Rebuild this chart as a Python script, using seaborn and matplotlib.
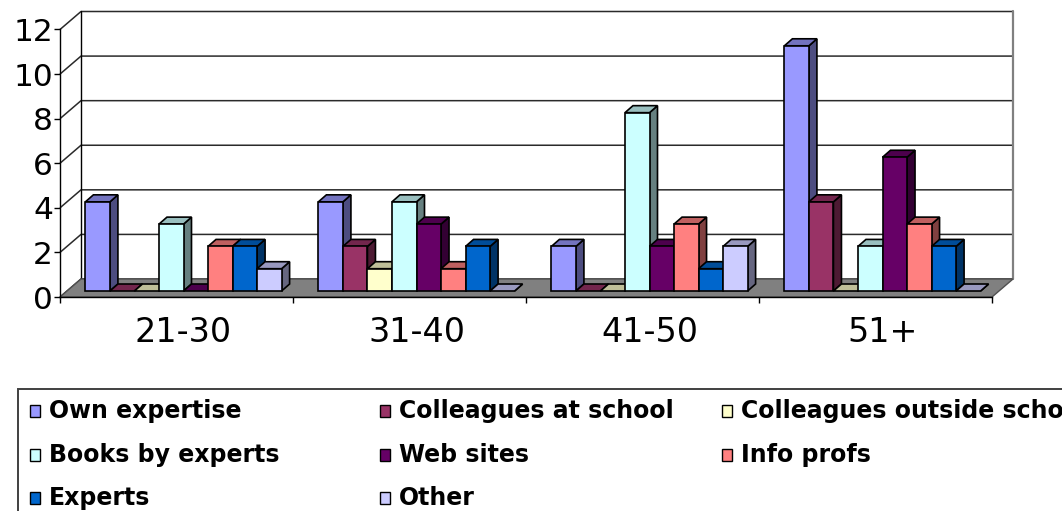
import numpy as np
import pandas as pd
import matplotlib
matplotlib.use("Agg")
import matplotlib.pyplot as plt
import seaborn as sns
from matplotlib.patches import Polygon, Rectangle
from matplotlib.colors import to_rgb

# ---- data -------------------------------------------------------------
age_groups = ["21-30", "31-40", "41-50", "51+"]
sources = ["Own expertise", "Colleagues at school", "Colleagues outside school",
           "Books by experts", "Web sites", "Info profs", "Experts", "Other"]

own_expertise = [4, 4, 2, 11]
colleagues_at_school = [0, 2, 0, 4]
colleagues_outside_school = [0, 1, 0, 0]
books_by_experts = [3, 4, 8, 2]
web_sites = [0, 3, 2, 6]
info_profs = [2, 1, 3, 3]
experts = [2, 2, 1, 2]
other = [1, 0, 2, 0]

series_values = [own_expertise, colleagues_at_school, colleagues_outside_school,
                 books_by_experts, web_sites, info_profs, experts, other]
colors = ["#9999FF", "#993366", "#FFFFCC", "#CCFFFF",
          "#660066", "#FF8080", "#0066CC", "#CCCCFF"]
y_ticks = [0, 2, 4, 6, 8, 10, 12]

df = pd.DataFrame([(age, src, vals[i])
                   for src, vals in zip(sources, series_values)
                   for i, age in enumerate(age_groups)],
                  columns=["Age", "Source", "Count"])

# ---- figure / front plane --------------------------------------------
FIG_W, FIG_H, DPI = 1062, 511, 100
sns.set_style("white")
plt.rcParams["font.family"] = ["DejaVu Sans"]
plt.rcParams["text.color"] = "black"
plt.rcParams["xtick.color"] = "black"
plt.rcParams["ytick.color"] = "black"

fig = plt.figure(figsize=(FIG_W / DPI, FIG_H / DPI), dpi=DPI)
fig.patch.set_facecolor("white")

AX_L, AX_B, AX_W, AX_H = 60, 297, 932, 267.5     # pixels (front plane)
ax = fig.add_axes([AX_L / FIG_W, (FIG_H - AX_B) / FIG_H, AX_W / FIG_W, AX_H / FIG_H])
ax.patch.set_visible(False)

sns.barplot(data=df, x="Age", y="Count", hue="Source", order=age_groups,
            hue_order=sources, palette=colors, saturation=1, width=8 / 9.5,
            gap=0, edgecolor="black", linewidth=1.2, legend=False, ax=ax,
            errorbar=None)

ax.set_xlim(-0.5, len(age_groups) - 0.5)
ax.set_ylim(0, 12)

# pixel -> data conversion
ux = (len(age_groups)) / AX_W
uy = 12 / AX_H

# depth of the box and of the bar slab (pixels)
WALL_DX, WALL_DY = 21, 18
FX, FY = 7 * ux, 6 * uy          # bar front plane
BX, BY = 15 * ux, 13 * uy        # bar back plane
WX, WY = WALL_DX * ux, WALL_DY * uy

x_lo, x_hi = ax.get_xlim()

# floor
ax.add_patch(Polygon([(x_lo, 0), (x_hi, 0), (x_hi + WX, WY), (x_lo + WX, WY)],
                     closed=True, facecolor="#808080", edgecolor="#505050",
                     linewidth=1, zorder=0.6, clip_on=False))

# back wall + side wall gridlines
ax.add_patch(Polygon([(x_lo + WX, WY), (x_hi + WX, WY), (x_hi + WX, 12 + WY),
                      (x_lo + WX, 12 + WY)], closed=True, facecolor="white",
                     edgecolor="none", zorder=0.3, clip_on=False))
for v in y_ticks:
    ax.plot([x_lo, x_lo + WX, x_hi + WX], [v, v + WY, v + WY],
            color="#2a2a2a", linewidth=1.1, zorder=0.5, clip_on=False,
            solid_capstyle="butt")
ax.plot([x_lo + WX, x_lo + WX], [WY, 12 + WY], color="black", linewidth=1,
        zorder=0.5, clip_on=False)
ax.plot([x_hi + WX, x_hi + WX], [WY, 12 + WY], color="#808080", linewidth=1.6,
        zorder=0.5, clip_on=False)


def shade(c, f):
    r, g, b = to_rgb(c)
    return (r * f, g * f, b * f)


# extrude the bars into 3D blocks
bars = sorted([p for p in ax.patches if isinstance(p, Rectangle)
               and p.get_width() < 0.5], key=lambda p: p.get_x())
for k, p in enumerate(bars):
    x0, w, h = p.get_x(), p.get_width(), p.get_height()
    x1 = x0 + w
    fc = p.get_facecolor()
    z = 2 + k * 0.01
    side = Polygon([(x1 + FX, FY), (x1 + FX, h + FY), (x1 + BX, h + BY), (x1 + BX, BY)],
                   closed=True, facecolor=shade(fc, 0.5), edgecolor="black",
                   linewidth=1.2, zorder=z, clip_on=False)
    top = Polygon([(x0 + FX, h + FY), (x1 + FX, h + FY), (x1 + BX, h + BY), (x0 + BX, h + BY)],
                  closed=True, facecolor=shade(fc, 0.75), edgecolor="black",
                  linewidth=1.2, zorder=z + 0.002, clip_on=False)
    ax.add_patch(side)
    ax.add_patch(top)
    if h > 0:
        p.set_x(x0 + FX)
        p.set_y(FY)
        p.set_zorder(z + 0.004)
        p.set_clip_on(False)
    else:
        p.set_visible(False)

# axes, ticks, labels
for s in ["top", "right"]:
    ax.spines[s].set_visible(False)
for s in ["left", "bottom"]:
    ax.spines[s].set_color("black")
    ax.spines[s].set_linewidth(1)
    ax.spines[s].set_zorder(1)

ax.set_yticks(y_ticks)
ax.set_yticklabels([str(v) for v in y_ticks])
ax.tick_params(axis="y", which="major", direction="out", length=4, width=1,
               color="black", labelcolor="black", labelsize=22.5, pad=1, left=True)
ax.set_xticks(np.arange(len(age_groups) + 1) - 0.5)
ax.set_xticklabels([])
ax.set_xticks(np.arange(len(age_groups)) + FX, minor=True)
ax.set_xticklabels(age_groups, minor=True)
ax.tick_params(axis="x", which="major", direction="out", length=4, width=1,
               color="black", bottom=True)
ax.tick_params(axis="x", which="minor", length=0, labelsize=24, pad=14,
               labelcolor="black")
ax.set_xlabel("")
ax.set_ylabel("")

# legend box
fx = lambda px: px / FIG_W
fy = lambda py: 1 - py / FIG_H
fig.patches.append(Rectangle((fx(18), fy(540)), fx(1100) - fx(18), fy(389) - fy(540),
                             transform=fig.transFigure, facecolor="white",
                             edgecolor="#404040", linewidth=1.4, zorder=0))
col_x = [30, 380, 722]
row_y = [411, 455, 498]
for i, (src, col) in enumerate(zip(sources, colors)):
    r, c = divmod(i, 3)
    mx, my = col_x[c], row_y[r]
    fig.patches.append(Rectangle((fx(mx), fy(my + 6)), fx(10), fy(my - 6) - fy(my + 6),
                                 transform=fig.transFigure, facecolor=col,
                                 edgecolor="black", linewidth=1, zorder=2))
    fig.text(fx(mx + 19), fy(my), src, fontsize=17, fontweight="bold",
             va="center", ha="left", color="black")

fig.savefig("out.png", dpi=DPI, facecolor="white")
